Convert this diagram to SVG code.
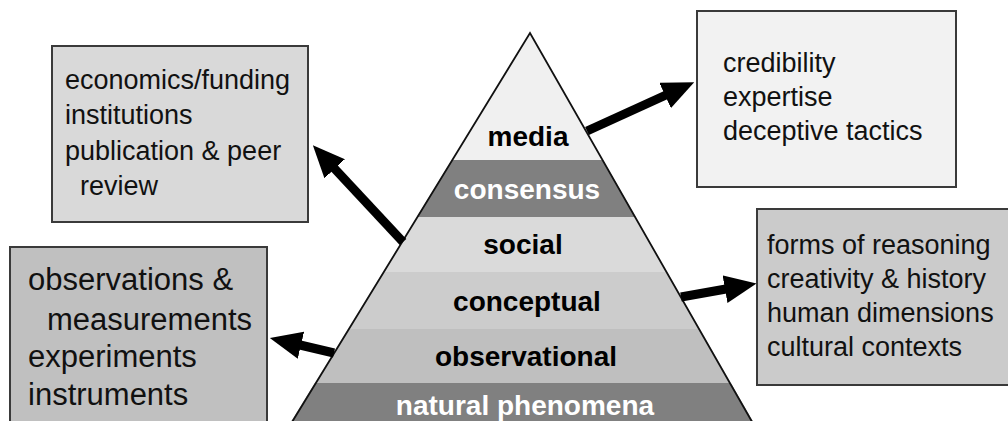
<svg xmlns="http://www.w3.org/2000/svg" width="1008" height="421" viewBox="0 0 1008 421">
<style>
.box{stroke:#3a3a3a;stroke-width:2}
.t{font-family:"Liberation Sans",Arial,sans-serif;font-size:27px;fill:#111}
.tb{font-family:"Liberation Sans",Arial,sans-serif;font-size:31px;fill:#111}
.p{font-family:"Liberation Sans",Arial,sans-serif;font-size:28px;font-weight:bold;text-anchor:middle;fill:#000}
.pw{fill:#fff}
.arr{stroke:#000;stroke-width:9;fill:none}
</style>
<defs>
<clipPath id="tri"><polygon points="530,33 289,425 755,425"/></clipPath>
<marker id="ah" viewBox="0 0 32 28" refX="1" refY="14" markerWidth="32" markerHeight="28" markerUnits="userSpaceOnUse" orient="auto"><path d="M0,0 L32,14 L0,28 z" fill="#000"/></marker>
</defs>
<rect width="1008" height="421" fill="#fff"/>
<g id="pyramid">
<g clip-path="url(#tri)">
<rect x="280" y="30" width="480" height="130" fill="#f0f0f0"/>
<rect x="280" y="160" width="480" height="57" fill="#808080"/>
<rect x="280" y="217" width="480" height="55" fill="#dadada"/>
<rect x="280" y="272" width="480" height="57" fill="#cccccc"/>
<rect x="280" y="329" width="480" height="54" fill="#bfbfbf"/>
<rect x="280" y="383" width="480" height="45" fill="#808080"/>
</g>
<polyline points="289,427 530,33 755,427" fill="none" stroke="#111" stroke-width="1.8"/>
<text class="p" x="528" y="146">media</text>
<text class="p pw" x="527" y="199">consensus</text>
<text class="p" x="523" y="254">social</text>
<text class="p" x="527" y="311">conceptual</text>
<text class="p" x="526" y="366">observational</text>
<text class="p pw" x="525" y="415">natural phenomena</text>
</g>
<g id="box-institutional">
<rect class="box" x="52" y="46" width="256" height="176" fill="#d9d9d9"/>
<text class="t" x="65" y="89">economics/funding</text>
<text class="t" x="65" y="124">institutions</text>
<text class="t" x="65" y="160">publication &amp; peer</text>
<text class="t" x="80" y="195">review</text>
</g>
<g id="box-media">
<rect class="box" x="697" y="11" width="259" height="176" fill="#f2f2f2"/>
<text class="t" x="723" y="72">credibility</text>
<text class="t" x="723" y="106">expertise</text>
<text class="t" x="723" y="140">deceptive tactics</text>
</g>
<g id="box-observational">
<rect class="box" x="10" y="247" width="257" height="190" fill="#c0c0c0"/>
<text class="tb" x="28" y="290">observations &amp;</text>
<text class="tb" x="47" y="330">measurements</text>
<text class="tb" x="28" y="367">experiments</text>
<text class="tb" x="28" y="405">instruments</text>
</g>
<g id="box-conceptual">
<rect class="box" x="757" y="209" width="260" height="176" fill="#cbcbcb"/>
<text class="t" x="767" y="254">forms of reasoning</text>
<text class="t" x="767" y="288">creativity &amp; history</text>
<text class="t" x="767" y="322">human dimensions</text>
<text class="t" x="767" y="356">cultural contexts</text>
</g>
<g id="connectors">
<line class="arr" x1="403" y1="242" x2="334" y2="168" marker-end="url(#ah)"/>
<line class="arr" x1="587" y1="131" x2="666" y2="95" marker-end="url(#ah)"/>
<line class="arr" x1="681" y1="297" x2="726" y2="289" marker-end="url(#ah)"/>
<line class="arr" x1="334" y1="353" x2="300" y2="345" marker-end="url(#ah)"/>
</g>
</svg>
